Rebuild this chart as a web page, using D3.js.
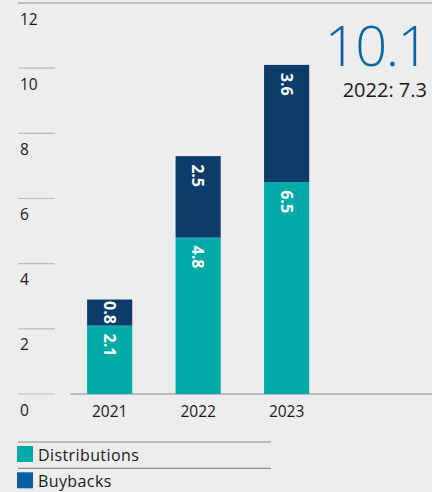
<!DOCTYPE html>
<html>
<head>
<meta charset="utf-8">
<script src="https://cdn.jsdelivr.net/npm/d3@7"></script>
<style>
  html, body { margin: 0; padding: 0; background: #ededed; }
  svg { display: block; font-family: "Open Sans", "Noto Sans", sans-serif; }
</style>
</head>
<body>
<svg id="chart" width="432" height="492"></svg>
<script>
const years = ["2021", "2022", "2023"];
const distributions = [2.1, 4.8, 6.5];
const buybacks = [0.8, 2.5, 3.6];
const yTicks = [0, 2, 4, 6, 8, 10, 12];
const seriesNames = ["Distributions", "Buybacks"];
const headlineValue = "10.1";
const headlineSub = "2022: 7.3";

const colors = { dist: "#00aaa6", buy: "#0c3c6a", buyLegend: "#0a5e9e", headline: "#0a66a6" };

const svg = d3.select("#chart");
const y = d3.scaleLinear().domain([0, 12]).range([394, 3]);
const x = d3.scaleBand().domain(years).range([65, 331.3]).paddingInner(0.49).paddingOuter(0.25);

// y gridlines / ticks
yTicks.forEach(t => {
  svg.append("line")
    .attr("x1", 18).attr("x2", t === 12 ? 432 : 55)
    .attr("y1", y(t)).attr("y2", y(t))
    .attr("stroke", t === 12 ? "#8c8c8c" : "#bdbdbd").attr("stroke-width", 1.2);
  svg.append("text")
    .attr("x", 20).attr("y", y(t) + 21.5)
    .attr("font-size", 15.5).attr("fill", "#1a1a1a")
    .text(t);
});

// baseline
svg.append("line").attr("x1", 70).attr("x2", 432).attr("y1", y(0)).attr("y2", y(0))
  .attr("stroke", "#8c8c8c").attr("stroke-width", 1.2);

const data = years.map((yr, i) => ({ yr, d: distributions[i], b: buybacks[i] }));

const g = svg.append("g");
data.forEach(dd => {
  const segs = [
    { v0: 0, v1: dd.d, val: dd.d, color: colors.dist },
    { v0: dd.d, v1: dd.d + dd.b, val: dd.b, color: colors.buy }
  ];
  segs.forEach(s => {
    g.append("rect")
      .attr("x", x(dd.yr)).attr("width", x.bandwidth())
      .attr("y", y(s.v1)).attr("height", y(s.v0) - y(s.v1))
      .attr("fill", s.color);
    const cx = x(dd.yr) + x.bandwidth() / 2;
    const top = y(s.v1);
    const segH = y(s.v0) - y(s.v1);
    const t = g.append("text")
      .attr("font-size", 16).attr("font-weight", 700).attr("fill", "#ffffff")
      .attr("dominant-baseline", "central")
      .text(s.val.toFixed(1));
    const len = t.node().getComputedTextLength();
    const off = Math.max(1.5, Math.min(8, (segH - len) / 2));
    t.attr("transform", `translate(${cx},${top + off}) rotate(90)`);
  });
  svg.append("text")
    .attr("x", x(dd.yr) + x.bandwidth() / 2).attr("y", 417)
    .attr("text-anchor", "middle").attr("font-size", 15.5).attr("fill", "#1a1a1a")
    .text(dd.yr);
});

// headline
svg.append("text").attr("x", 428).attr("y", 66).attr("text-anchor", "end")
  .attr("font-size", 56).attr("font-weight", 300).attr("letter-spacing", -1.5)
  .attr("fill", colors.headline)
  .text(headlineValue);
svg.append("text").attr("x", 427).attr("y", 96.5).attr("text-anchor", "end")
  .attr("font-size", 20).attr("fill", "#1a1a1a")
  .text(headlineSub);

// legend
const legendColors = [colors.dist, colors.buyLegend];
seriesNames.forEach((name, i) => {
  const ly = 442 + i * 26.3;
  svg.append("line").attr("x1", 18).attr("x2", 271).attr("y1", ly).attr("y2", ly)
    .attr("stroke", "#8c8c8c").attr("stroke-width", 1.2);
  svg.append("rect").attr("x", 17).attr("y", ly + 4).attr("width", 16).attr("height", 16)
    .attr("fill", legendColors[i]);
  svg.append("text").attr("x", 38).attr("y", ly + 18.5)
    .attr("font-size", 16).attr("letter-spacing", 0.4).attr("fill", "#1a1a1a").text(name);
});
</script>
</body>
</html>
